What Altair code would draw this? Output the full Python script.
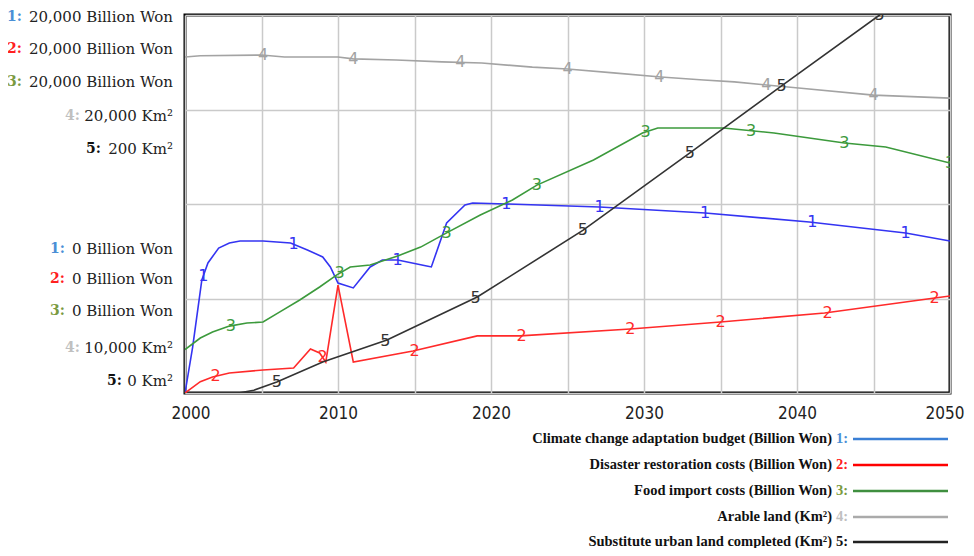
import altair as alt
import pandas as pd
import numpy as np

# ---------------- data ----------------
years1 = [2000, 2000.5, 2001.1, 2001.5, 2002.2, 2002.9, 2003.6, 2005.1, 2006.9, 2008.0, 2009.0,
          2009.5, 2010.0, 2011.0, 2012.1, 2012.9, 2013.9, 2015.8, 2016.1, 2017.1, 2018.3, 2018.8,
          2021.0, 2027.1, 2034.0, 2040.8, 2047.1, 2050]
vals1 = [0, 2430, 5980, 6880, 7670, 7940, 8040, 8040, 7940, 7570, 7200,
         6670, 5820, 5560, 6670, 7040, 7040, 6720, 6670, 9000, 9950, 10050,
         10000, 9840, 9520, 9050, 8470, 8040]

years2 = [2000, 2001, 2001.8, 2002.9, 2005.1, 2007.1, 2008.2, 2008.8, 2009.2, 2010.0, 2011.0,
          2014.9, 2019.1, 2021.9, 2029.1, 2035, 2041.8, 2049, 2050]
vals2 = [0, 600, 850, 1060, 1220, 1320, 2330, 2120, 1640, 5710, 1640,
         2220, 3020, 3020, 3390, 3760, 4230, 5030, 5130]

years3 = [2000, 2001, 2001.8, 2002.9, 2004.05, 2005.1, 2006.2, 2007.5, 2008.8, 2009.9, 2010.8,
          2012.1, 2013.9, 2015.4, 2017.1, 2019.3, 2021.4, 2023.0, 2026.7, 2029.9, 2030.9,
          2035.2, 2038.5, 2043.1, 2045.8, 2050]
vals3 = [2300, 2910, 3230, 3540, 3700, 3760, 4290, 4920, 5610, 6240, 6670,
         6770, 7250, 7720, 8470, 9420, 10210, 11000, 12330, 13760, 14020,
         14020, 13760, 13230, 13020, 12170]

years4 = [2000, 2001, 2005, 2006.5, 2010, 2011, 2013.8, 2016.8, 2019.4, 2022.7, 2025, 2028,
          2031.1, 2033.9, 2035.9, 2038, 2040.1, 2045, 2050]
vals4 = [18890, 18920, 18940, 18890, 18890, 18840, 18810, 18760, 18730, 18620, 18570, 18470,
         18360, 18280, 18230, 18150, 18070, 17880, 17800]

years5 = [2003.5, 2004.5, 2006, 2009, 2013.2, 2019.1, 2026, 2033, 2038.9, 2045.4, 2050]
vals5 = [0, 1.5, 5.8, 16.4, 28, 50.8, 86, 127, 162, 200, 227]

marker_years = [
    [2001.2, 2007.1, 2013.9, 2021.0, 2027.1, 2034.0, 2041.0, 2047.1],
    [2002.0, 2009.0, 2015.0, 2022.0, 2029.1, 2035.0, 2042.0, 2049.0],
    [2003.0, 2010.1, 2017.1, 2023.0, 2030.1, 2037.0, 2043.1, 2050.0],
    [2005.1, 2011.0, 2018.0, 2025.0, 2031.0, 2038.0, 2045.0],
    [2006.0, 2013.1, 2019.0, 2026.0, 2033.0, 2039.0, 2045.4],
]

names = ["Climate change adaptation budget (Billion Won)",
         "Disaster restoration costs (Billion Won)",
         "Food import costs (Billion Won)",
         "Arable land (Km\u00b2)",
         "Substitute urban land completed (Km\u00b2)"]
domains = [[0, 20000], [0, 20000], [0, 20000], [10000, 20000], [0, 200]]
line_colors = ["#3434f2", "#ff2a2a", "#3c9a3c", "#a3a3a3", "#333333"]
prefix_colors = ["#4a8fd6", "#ff2020", "#7a9a40", "#c0c0c0", "#111111"]
legend_line_colors = ["#3a7fd5", "#ff0000", "#3f8f3f", "#aaaaaa", "#222222"]

top_labels = ["20,000 Billion Won", "20,000 Billion Won", "20,000 Billion Won",
              "20,000 Km\u00b2", "200 Km\u00b2"]
bottom_labels = ["0 Billion Won", "0 Billion Won", "0 Billion Won",
                 "10,000 Km\u00b2", "0 Km\u00b2"]

# ---------------- layout constants ----------------
PLOT_W, PLOT_H = 765, 378
label_rows_y = [2, 34, 67, 101, 134, 234, 264, 296, 333, 366]
label_prefix_x = [-163, -163, -163, -105, -84, -120, -120, -120, -105, -63]
label_text_x = -12
legend_rows_y = [424, 450, 476, 502, 527]

SERIF = "DejaVu Serif"

all_years = [years1, years2, years3, years4, years5]
all_vals = [vals1, vals2, vals3, vals4, vals5]

x_scale = alt.Scale(domain=[2000, 2050], nice=False, zero=False)
x_axis = alt.Axis(values=list(range(2000, 2051, 5)),
                  labelExpr="datum.value % 10 == 0 ? format(datum.value, 'd') : ''",
                  grid=True, gridColor="#cacaca", gridWidth=1.5,
                  ticks=False, domain=False, title=None,
                  labelFlush=True, labelFlushOffset=14,
                  labelFont="DejaVu Sans Condensed", labelFontSize=17,
                  labelColor="#222", labelPadding=12)
y_axis1 = alt.Axis(values=[0, 5000, 10000, 15000, 20000], grid=True,
                   gridColor="#cacaca", gridWidth=1.5, labels=False,
                   ticks=False, domain=False, title=None)

layers = []
for i in range(5):
    df = pd.DataFrame({"year": all_years[i], "value": all_vals[i]})
    mk = np.array(marker_years[i])
    mdf = pd.DataFrame({"year": mk,
                        "value": np.interp(mk, all_years[i], all_vals[i]),
                        "lab": str(i + 1)})
    ysc = alt.Scale(domain=domains[i], nice=False, zero=False)
    line = alt.Chart(df).mark_line(color=line_colors[i], strokeWidth=1.6, clip=True).encode(
        x=alt.X("year:Q", scale=x_scale, axis=x_axis if i == 0 else None),
        y=alt.Y("value:Q", scale=ysc, axis=y_axis1 if i == 0 else None),
    )
    txt = alt.Chart(mdf).mark_text(color=line_colors[i], font="DejaVu Sans", fontSize=16,
                                   align="center", baseline="middle", clip=True).encode(
        x=alt.X("year:Q", scale=x_scale, axis=None),
        y=alt.Y("value:Q", scale=ysc, axis=None),
        text="lab:N",
    )
    layers += [line, txt]

# left-hand scale labels
lab_df = pd.DataFrame({
    "txt": top_labels + bottom_labels,
    "pre": [f"{k}:" for k in range(1, 6)] * 2,
    "col": prefix_colors * 2,
    "y": label_rows_y,
    "px": label_prefix_x,
    "tx": [label_text_x] * 10,
})
lab_text = alt.Chart(lab_df).mark_text(font=SERIF, fontSize=15, align="right",
                                       baseline="middle", color="#222").encode(
    x=alt.X("tx:Q", scale=None, axis=None), y=alt.Y("y:Q", scale=None, axis=None), text="txt:N")
lab_pre = alt.Chart(lab_df).mark_text(font=SERIF, fontSize=14, fontWeight="bold",
                                      align="right", baseline="middle").encode(
    x=alt.X("px:Q", scale=None, axis=None), y=alt.Y("y:Q", scale=None, axis=None), text="pre:N",
    color=alt.Color("col:N", scale=None))

# legend
leg_df = pd.DataFrame({
    "name": names,
    "pre": [f"{k}:" for k in range(1, 6)],
    "pcol": prefix_colors,
    "lcol": legend_line_colors,
    "y": legend_rows_y,
    "tx": [647] * 5,
    "px": [651] * 5,
    "x1": [668] * 5,
    "x2": [763] * 5,
})
leg_text = alt.Chart(leg_df).mark_text(font="Liberation Serif", fontSize=14.5, fontWeight="bold",
                                       align="right", baseline="middle", color="#111").encode(
    x=alt.X("tx:Q", scale=None, axis=None), y=alt.Y("y:Q", scale=None, axis=None), text="name:N")
leg_pre = alt.Chart(leg_df).mark_text(font="Liberation Serif", fontSize=14.5, fontWeight="bold",
                                      align="left", baseline="middle").encode(
    x=alt.X("px:Q", scale=None, axis=None), y=alt.Y("y:Q", scale=None, axis=None), text="pre:N",
    color=alt.Color("pcol:N", scale=None))
leg_line = alt.Chart(leg_df).mark_rule(strokeWidth=2.5).encode(
    x=alt.X("x1:Q", scale=None, axis=None), x2="x2:Q", y=alt.Y("y:Q", scale=None, axis=None),
    color=alt.Color("lcol:N", scale=None))

chart = alt.layer(*layers, lab_text, lab_pre, leg_text, leg_pre, leg_line).resolve_scale(
    x="independent", y="independent"
).properties(
    width=PLOT_W, height=PLOT_H,
    background="white",
    autosize=alt.AutoSizeParams(type="none"),
    padding={"left": 177, "top": 7, "right": 16, "bottom": 155},
).configure_view(stroke="#000000", strokeWidth=3)

chart.save("out.html", embed_options={"renderer": "svg", "actions": False})
